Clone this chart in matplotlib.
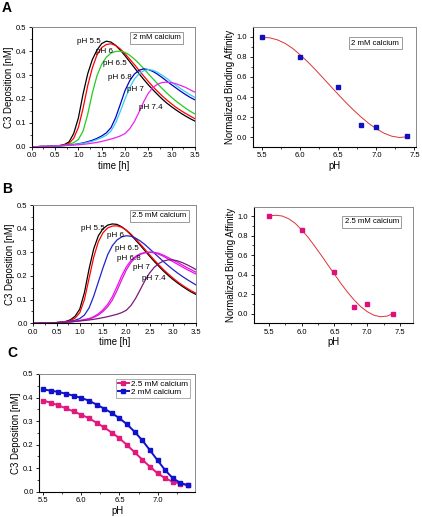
import matplotlib
matplotlib.use("Agg")
import matplotlib.pyplot as plt
from matplotlib.ticker import MultipleLocator, AutoMinorLocator, FormatStrFormatter

plt.rcParams['font.family'] = ['Liberation Sans', 'DejaVu Sans']

# ---------------- data ----------------
time_h = [0.0, 0.1, 0.2, 0.3, 0.4, 0.5, 0.6, 0.7, 0.8, 0.9, 1.0, 1.1, 1.2, 1.3, 1.4, 1.5, 1.6, 1.7,
          1.8, 1.9, 2.0, 2.1, 2.2, 2.3, 2.4, 2.5, 2.6, 2.7, 2.8, 2.9, 3.0, 3.1, 3.2, 3.3, 3.4, 3.5]

# Panel A: 2 mM calcium
A_ph55 = [0.000, 0.000, 0.001, 0.001, 0.002, 0.003, 0.005, 0.009, 0.020, 0.055, 0.120, 0.220, 0.305, 0.365,
          0.405, 0.432, 0.442, 0.438, 0.424, 0.404, 0.381, 0.356, 0.331, 0.306, 0.282, 0.259, 0.238, 0.218,
          0.199, 0.182, 0.167, 0.153, 0.140, 0.128, 0.117, 0.107]
A_ph6 = [0.000, 0.000, 0.001, 0.001, 0.002, 0.003, 0.004, 0.007, 0.014, 0.035, 0.080, 0.160, 0.255, 0.330,
         0.385, 0.415, 0.428, 0.431, 0.424, 0.409, 0.389, 0.367, 0.344, 0.320, 0.296, 0.273, 0.251, 0.231,
         0.212, 0.195, 0.179, 0.164, 0.151, 0.139, 0.128, 0.117]
A_ph65 = [0.000, 0.000, 0.001, 0.001, 0.002, 0.003, 0.004, 0.006, 0.010, 0.017, 0.030, 0.065, 0.135, 0.225,
          0.298, 0.345, 0.375, 0.392, 0.399, 0.400, 0.395, 0.383, 0.367, 0.348, 0.327, 0.305, 0.284, 0.263,
          0.243, 0.224, 0.206, 0.190, 0.175, 0.161, 0.148, 0.137]
A_ph68 = [0.000, 0.000, 0.001, 0.001, 0.002, 0.003, 0.004, 0.005, 0.007, 0.009, 0.012, 0.016, 0.021, 0.027,
          0.035, 0.045, 0.058, 0.080, 0.122, 0.178, 0.235, 0.276, 0.304, 0.320, 0.326, 0.323, 0.315, 0.303,
          0.289, 0.274, 0.259, 0.245, 0.231, 0.218, 0.206, 0.196]
A_ph7 = [0.000, 0.000, 0.001, 0.001, 0.002, 0.003, 0.004, 0.005, 0.006, 0.008, 0.011, 0.014, 0.018, 0.023,
         0.030, 0.038, 0.048, 0.066, 0.100, 0.148, 0.200, 0.247, 0.283, 0.305, 0.318, 0.323, 0.320, 0.311,
         0.299, 0.285, 0.270, 0.256, 0.242, 0.229, 0.217, 0.206]
A_ph74 = [0.000, 0.000, 0.001, 0.001, 0.002, 0.003, 0.004, 0.005, 0.006, 0.007, 0.008, 0.010, 0.012, 0.015,
          0.018, 0.022, 0.027, 0.032, 0.038, 0.045, 0.055, 0.075, 0.105, 0.145, 0.188, 0.224, 0.248, 0.262,
          0.269, 0.270, 0.268, 0.263, 0.256, 0.248, 0.238, 0.228]

# Panel B: 2.5 mM calcium
B_ph55 = [0.000, 0.000, 0.001, 0.001, 0.002, 0.003, 0.005, 0.008, 0.015, 0.030, 0.060, 0.130, 0.230, 0.315,
          0.370, 0.400, 0.415, 0.420, 0.418, 0.408, 0.393, 0.374, 0.352, 0.330, 0.307, 0.284, 0.262, 0.241,
          0.221, 0.203, 0.186, 0.171, 0.157, 0.144, 0.132, 0.122]
B_ph6 = [0.000, 0.000, 0.001, 0.001, 0.002, 0.003, 0.004, 0.007, 0.012, 0.022, 0.045, 0.100, 0.190, 0.280,
         0.345, 0.383, 0.403, 0.411, 0.412, 0.406, 0.394, 0.377, 0.357, 0.335, 0.313, 0.290, 0.268, 0.247,
         0.227, 0.209, 0.192, 0.176, 0.162, 0.149, 0.137, 0.127]
B_ph65 = [0.000, 0.000, 0.001, 0.001, 0.002, 0.003, 0.004, 0.006, 0.009, 0.013, 0.020, 0.035, 0.065, 0.115,
          0.175, 0.235, 0.290, 0.328, 0.352, 0.365, 0.370, 0.368, 0.360, 0.348, 0.333, 0.315, 0.297, 0.279,
          0.261, 0.244, 0.228, 0.213, 0.199, 0.186, 0.174, 0.162]
B_ph68 = [0.000, 0.000, 0.001, 0.001, 0.002, 0.003, 0.004, 0.005, 0.007, 0.009, 0.012, 0.016, 0.020, 0.028,
          0.040, 0.057, 0.080, 0.112, 0.155, 0.200, 0.238, 0.265, 0.283, 0.294, 0.299, 0.300, 0.298, 0.292,
          0.283, 0.272, 0.261, 0.250, 0.239, 0.228, 0.218, 0.208]
B_ph7 = [0.000, 0.000, 0.001, 0.001, 0.002, 0.003, 0.004, 0.005, 0.006, 0.008, 0.011, 0.014, 0.018, 0.025,
         0.035, 0.050, 0.070, 0.098, 0.138, 0.183, 0.225, 0.257, 0.278, 0.291, 0.298, 0.301, 0.300, 0.296,
         0.288, 0.278, 0.268, 0.258, 0.247, 0.236, 0.226, 0.216]
B_ph74 = [0.000, 0.000, 0.001, 0.001, 0.002, 0.003, 0.004, 0.005, 0.006, 0.008, 0.010, 0.012, 0.014, 0.017,
          0.020, 0.024, 0.028, 0.033, 0.038, 0.045, 0.055, 0.075, 0.105, 0.142, 0.180, 0.212, 0.236, 0.253,
          0.263, 0.268, 0.268, 0.264, 0.257, 0.248, 0.238, 0.227]

curve_labels = ["pH 5.5", "pH 6", "pH 6.5", "pH 6.8", "pH 7", "pH 7.4"]
A_colors = ["#000000", "#ff0000", "#22cc22", "#0000cc", "#33ccee", "#ee22ee"]
B_colors = ["#000000", "#ff0000", "#2222cc", "#ff00ff", "#cc22cc", "#7a1a7a"]
A_label_pos = [(0.97, 0.44), (1.37, 0.40), (1.52, 0.35), (1.64, 0.29), (2.04, 0.24), (2.29, 0.165)]
B_label_pos = [(1.02, 0.402), (1.59, 0.37), (1.75, 0.315), (1.80, 0.272), (2.15, 0.237), (2.34, 0.188)]

# binding affinity
ph_points = [5.5, 6.0, 6.5, 6.8, 7.0, 7.4]
affinity_2mM = [1.0, 0.80, 0.50, 0.12, 0.10, 0.01]
affinity_25mM = [1.0, 0.86, 0.43, 0.07, 0.10, 0.005]
ph_fit = [5.5, 5.6, 5.7, 5.8, 5.9, 6.0, 6.1, 6.2, 6.3, 6.4, 6.5, 6.6, 6.7, 6.8, 6.9, 7.0, 7.1, 7.2, 7.3, 7.4]
fit_2mM = [0.995, 0.99, 0.97, 0.935, 0.885, 0.82, 0.75, 0.672, 0.59, 0.507, 0.425, 0.345, 0.27, 0.20,
           0.137, 0.083, 0.04, 0.01, -0.003, 0.003]
fit_25mM = [1.0, 1.008, 1.0, 0.972, 0.925, 0.858, 0.78, 0.69, 0.597, 0.50, 0.405, 0.31, 0.222, 0.143,
            0.076, 0.024, -0.012, -0.028, -0.022, 0.004]

# Panel C
ph_c = [5.5, 5.6, 5.7, 5.8, 5.9, 6.0, 6.1, 6.2, 6.3, 6.4, 6.5, 6.6, 6.7, 6.8, 6.9, 7.0, 7.1, 7.2, 7.3, 7.4]
dep_25mM = [0.387, 0.378, 0.367, 0.354, 0.341, 0.327, 0.312, 0.293, 0.273, 0.251, 0.227, 0.198, 0.167,
            0.136, 0.106, 0.078, 0.057, 0.042, 0.034, 0.028]
dep_2mM = [0.435, 0.429, 0.424, 0.416, 0.408, 0.398, 0.387, 0.370, 0.353, 0.334, 0.312, 0.286, 0.254,
           0.218, 0.176, 0.133, 0.091, 0.057, 0.037, 0.027]

# ---------------- figure ----------------
W, H = 422, 517
fig = plt.figure(figsize=(W / 100, H / 100), dpi=100)


def add_ax(l, r, t, b):
    return fig.add_axes([l / W, 1 - b / H, (r - l) / W, (b - t) / H])


TICK_FS = 5.5
LAB_FS = 6.9
CURVE_FS = 5.8
BOX_FS = 5.6


def style(ax):
    for s in ['left', 'bottom']:
        ax.spines[s].set_linewidth(0.8)
        ax.spines[s].set_color('black')
    for s in ['top', 'right']:
        ax.spines[s].set_linewidth(0.7)
        ax.spines[s].set_color('#8a8a8a')
    ax.tick_params(which='major', direction='out', length=2.5, width=0.6, labelsize=TICK_FS, pad=1.5)
    ax.tick_params(which='minor', direction='out', length=1.3, width=0.5)
    ax.xaxis.set_minor_locator(AutoMinorLocator(2))
    ax.yaxis.set_minor_locator(AutoMinorLocator(2))
    ax.xaxis.set_major_formatter(FormatStrFormatter('%.1f'))
    ax.yaxis.set_major_formatter(FormatStrFormatter('%.1f'))


box = dict(boxstyle='square,pad=0.3', fc='white', ec='#8a8a8a', lw=0.6)


def kinetics(ax, curves, colors, label_pos, boxtext, bx, by):
    for ys, c, lab, (lx, ly) in zip(curves, colors, curve_labels, label_pos):
        ax.plot(time_h, ys, color=c, lw=0.9)
        ax.text(lx, ly, lab, fontsize=CURVE_FS, ha='left', va='center')
    ax.set_xlim(0, 3.5)
    ax.set_ylim(0, 0.5)
    ax.xaxis.set_major_locator(MultipleLocator(0.5))
    ax.yaxis.set_major_locator(MultipleLocator(0.1))
    ax.set_xlabel('time [h]', fontsize=LAB_FS, labelpad=1)
    ax.set_ylabel('C3 Deposition [nM]', fontsize=LAB_FS, labelpad=1.5)
    ax.text(bx, by, boxtext, transform=ax.transAxes, fontsize=BOX_FS, ha='center', va='center', bbox=box)
    style(ax)


def affinity(ax, pts, fit, color, xlim, boxtext, bx, by):
    ax.plot(ph_fit, fit, color='#dd3333', lw=0.7)
    ax.plot(ph_points, pts, 's', color=color, ms=3.0, mec=color)
    ax.set_xlim(*xlim)
    ax.set_ylim(-0.095, 1.095)
    ax.xaxis.set_major_locator(MultipleLocator(0.5))
    ax.yaxis.set_major_locator(MultipleLocator(0.2))
    ax.set_xlabel('pH', fontsize=LAB_FS, labelpad=1)
    ax.set_ylabel('Normalized Binding Affinity', fontsize=LAB_FS, labelpad=1.5)
    ax.text(bx, by, boxtext, transform=ax.transAxes, fontsize=BOX_FS, ha='center', va='center', bbox=box)
    style(ax)


axA1 = add_ax(31.7, 195, 27.3, 146.7)
kinetics(axA1, [A_ph55, A_ph6, A_ph65, A_ph68, A_ph7, A_ph74], A_colors, A_label_pos,
         '2 mM calcium', 0.765, 0.912)
axA2 = add_ax(253, 416, 27.3, 146.7)
affinity(axA2, affinity_2mM, fit_2mM, '#1010c0', (5.38, 7.52), '2 mM calcium', 0.75, 0.868)

axB1 = add_ax(33.3, 196, 205, 323.3)
kinetics(axB1, [B_ph55, B_ph6, B_ph65, B_ph68, B_ph7, B_ph74], B_colors, B_label_pos,
         '2.5 mM calcium', 0.776, 0.909)
axB2 = add_ax(254, 413, 206.7, 323.3)
affinity(axB2, affinity_25mM, fit_25mM, '#e0107a', (5.27, 7.70), '2.5 mM calcium', 0.74, 0.871)

axC = add_ax(39.3, 195, 374, 491.7)
axC.plot(ph_c, dep_25mM, '-s', color='#e3187f', lw=1.4, ms=2.6, label='2.5 mM calcium')
axC.plot(ph_c, dep_2mM, '-s', color='#1111cc', lw=1.4, ms=2.6, label='2 mM calcium')
axC.set_xlim(5.45, 7.49)
axC.set_ylim(0, 0.5)
axC.xaxis.set_major_locator(MultipleLocator(0.5))
axC.yaxis.set_major_locator(MultipleLocator(0.1))
axC.set_xlabel('pH', fontsize=LAB_FS, labelpad=1)
axC.set_ylabel('C3 Deposition [nM]', fontsize=LAB_FS, labelpad=1.5)
leg = axC.legend(loc='upper right', fontsize=5.9, frameon=True, fancybox=False, edgecolor='#8a8a8a',
                 handlelength=1.4, handletextpad=0.3, borderpad=0.2, labelspacing=0.0,
                 borderaxespad=0.6)
leg.get_frame().set_linewidth(0.6)
style(axC)

# panel letters
fig.text(7 / W, 1 - 7.5 / H, 'A', fontsize=10, fontweight='bold', ha='center', va='center')
fig.text(7.3 / W, 1 - 189 / H, 'B', fontsize=10, fontweight='bold', ha='center', va='center')
fig.text(12.7 / W, 1 - 352.7 / H, 'C', fontsize=10, fontweight='bold', ha='center', va='center')

fig.savefig('out.png', dpi=100)
